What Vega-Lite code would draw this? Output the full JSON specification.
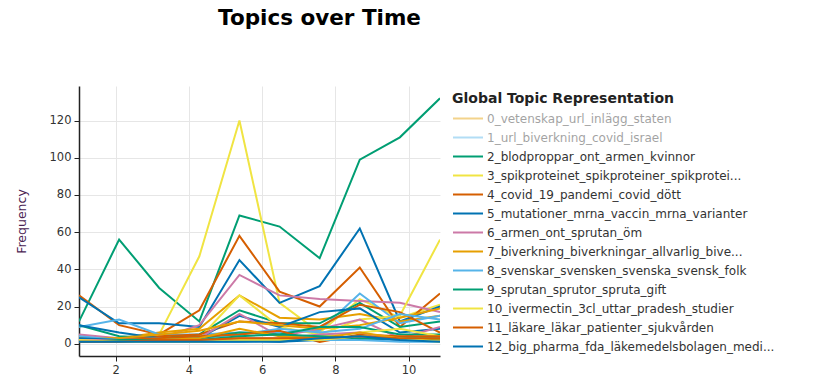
{
  "$schema": "https://vega.github.io/schema/vega-lite/v6.json",
  "width": 361,
  "height": 270,
  "autosize": {"type": "none"},
  "padding": {"left": 79, "top": 86, "right": 380, "bottom": 32},
  "background": "white",
  "title": {
    "text": "Topics over Time",
    "anchor": "middle",
    "frame": "group",
    "dx": 60,
    "offset": 57,
    "font": "DejaVu Sans",
    "fontSize": 21.5,
    "fontWeight": "bold",
    "color": "#000000"
  },
  "config": {
    "view": {"stroke": null},
    "font": "DejaVu Sans"
  },
  "datasets": {
    "freq": [
      {"topic": "2_blodproppar_ont_armen_kvinnor", "t": 1, "freq": 12},
      {"topic": "2_blodproppar_ont_armen_kvinnor", "t": 2.096, "freq": 56},
      {"topic": "2_blodproppar_ont_armen_kvinnor", "t": 3.191, "freq": 30},
      {"topic": "2_blodproppar_ont_armen_kvinnor", "t": 4.287, "freq": 12},
      {"topic": "2_blodproppar_ont_armen_kvinnor", "t": 5.382, "freq": 69},
      {"topic": "2_blodproppar_ont_armen_kvinnor", "t": 6.478, "freq": 63},
      {"topic": "2_blodproppar_ont_armen_kvinnor", "t": 7.573, "freq": 46},
      {"topic": "2_blodproppar_ont_armen_kvinnor", "t": 8.669, "freq": 99},
      {"topic": "2_blodproppar_ont_armen_kvinnor", "t": 9.764, "freq": 111},
      {"topic": "2_blodproppar_ont_armen_kvinnor", "t": 10.86, "freq": 132},

      {"topic": "3_spikproteinet_spikproteiner_spikprotei...", "t": 1, "freq": 2},
      {"topic": "3_spikproteinet_spikproteiner_spikprotei...", "t": 2.096, "freq": 2},
      {"topic": "3_spikproteinet_spikproteiner_spikprotei...", "t": 3.191, "freq": 5},
      {"topic": "3_spikproteinet_spikproteiner_spikprotei...", "t": 4.287, "freq": 47},
      {"topic": "3_spikproteinet_spikproteiner_spikprotei...", "t": 5.382, "freq": 120},
      {"topic": "3_spikproteinet_spikproteiner_spikprotei...", "t": 6.478, "freq": 22},
      {"topic": "3_spikproteinet_spikproteiner_spikprotei...", "t": 7.573, "freq": 6},
      {"topic": "3_spikproteinet_spikproteiner_spikprotei...", "t": 8.669, "freq": 24},
      {"topic": "3_spikproteinet_spikproteiner_spikprotei...", "t": 9.764, "freq": 14},
      {"topic": "3_spikproteinet_spikproteiner_spikprotei...", "t": 10.86, "freq": 21},

      {"topic": "4_covid_19_pandemi_covid_dött", "t": 1, "freq": 26},
      {"topic": "4_covid_19_pandemi_covid_dött", "t": 2.096, "freq": 10},
      {"topic": "4_covid_19_pandemi_covid_dött", "t": 3.191, "freq": 5},
      {"topic": "4_covid_19_pandemi_covid_dött", "t": 4.287, "freq": 18},
      {"topic": "4_covid_19_pandemi_covid_dött", "t": 5.382, "freq": 58},
      {"topic": "4_covid_19_pandemi_covid_dött", "t": 6.478, "freq": 28},
      {"topic": "4_covid_19_pandemi_covid_dött", "t": 7.573, "freq": 20},
      {"topic": "4_covid_19_pandemi_covid_dött", "t": 8.669, "freq": 41},
      {"topic": "4_covid_19_pandemi_covid_dött", "t": 9.764, "freq": 9},
      {"topic": "4_covid_19_pandemi_covid_dött", "t": 10.86, "freq": 27},

      {"topic": "5_mutationer_mrna_vaccin_mrna_varianter", "t": 1, "freq": 25},
      {"topic": "5_mutationer_mrna_vaccin_mrna_varianter", "t": 2.096, "freq": 11},
      {"topic": "5_mutationer_mrna_vaccin_mrna_varianter", "t": 3.191, "freq": 11},
      {"topic": "5_mutationer_mrna_vaccin_mrna_varianter", "t": 4.287, "freq": 9},
      {"topic": "5_mutationer_mrna_vaccin_mrna_varianter", "t": 5.382, "freq": 45},
      {"topic": "5_mutationer_mrna_vaccin_mrna_varianter", "t": 6.478, "freq": 22},
      {"topic": "5_mutationer_mrna_vaccin_mrna_varianter", "t": 7.573, "freq": 31},
      {"topic": "5_mutationer_mrna_vaccin_mrna_varianter", "t": 8.669, "freq": 62},
      {"topic": "5_mutationer_mrna_vaccin_mrna_varianter", "t": 9.764, "freq": 12},
      {"topic": "5_mutationer_mrna_vaccin_mrna_varianter", "t": 10.86, "freq": 20},

      {"topic": "6_armen_ont_sprutan_öm", "t": 1, "freq": 5},
      {"topic": "6_armen_ont_sprutan_öm", "t": 2.096, "freq": 3},
      {"topic": "6_armen_ont_sprutan_öm", "t": 3.191, "freq": 3},
      {"topic": "6_armen_ont_sprutan_öm", "t": 4.287, "freq": 10},
      {"topic": "6_armen_ont_sprutan_öm", "t": 5.382, "freq": 37},
      {"topic": "6_armen_ont_sprutan_öm", "t": 6.478, "freq": 26},
      {"topic": "6_armen_ont_sprutan_öm", "t": 7.573, "freq": 24},
      {"topic": "6_armen_ont_sprutan_öm", "t": 8.669, "freq": 23},
      {"topic": "6_armen_ont_sprutan_öm", "t": 9.764, "freq": 22},
      {"topic": "6_armen_ont_sprutan_öm", "t": 10.86, "freq": 17},

      {"topic": "7_biverkning_biverkningar_allvarlig_bive...", "t": 1, "freq": 2},
      {"topic": "7_biverkning_biverkningar_allvarlig_bive...", "t": 2.096, "freq": 3},
      {"topic": "7_biverkning_biverkningar_allvarlig_bive...", "t": 3.191, "freq": 6},
      {"topic": "7_biverkning_biverkningar_allvarlig_bive...", "t": 4.287, "freq": 8},
      {"topic": "7_biverkning_biverkningar_allvarlig_bive...", "t": 5.382, "freq": 26},
      {"topic": "7_biverkning_biverkningar_allvarlig_bive...", "t": 6.478, "freq": 14},
      {"topic": "7_biverkning_biverkningar_allvarlig_bive...", "t": 7.573, "freq": 13},
      {"topic": "7_biverkning_biverkningar_allvarlig_bive...", "t": 8.669, "freq": 16},
      {"topic": "7_biverkning_biverkningar_allvarlig_bive...", "t": 9.764, "freq": 12},
      {"topic": "7_biverkning_biverkningar_allvarlig_bive...", "t": 10.86, "freq": 15},

      {"topic": "8_svenskar_svensken_svenska_svensk_folk", "t": 1, "freq": 9},
      {"topic": "8_svenskar_svensken_svenska_svensk_folk", "t": 2.096, "freq": 13},
      {"topic": "8_svenskar_svensken_svenska_svensk_folk", "t": 3.191, "freq": 5},
      {"topic": "8_svenskar_svensken_svenska_svensk_folk", "t": 4.287, "freq": 5},
      {"topic": "8_svenskar_svensken_svenska_svensk_folk", "t": 5.382, "freq": 6},
      {"topic": "8_svenskar_svensken_svenska_svensk_folk", "t": 6.478, "freq": 6},
      {"topic": "8_svenskar_svensken_svenska_svensk_folk", "t": 7.573, "freq": 7},
      {"topic": "8_svenskar_svensken_svenska_svensk_folk", "t": 8.669, "freq": 27},
      {"topic": "8_svenskar_svensken_svenska_svensk_folk", "t": 9.764, "freq": 11},
      {"topic": "8_svenskar_svensken_svenska_svensk_folk", "t": 10.86, "freq": 15},

      {"topic": "9_sprutan_sprutor_spruta_gift", "t": 1, "freq": 10},
      {"topic": "9_sprutan_sprutor_spruta_gift", "t": 2.096, "freq": 4},
      {"topic": "9_sprutan_sprutor_spruta_gift", "t": 3.191, "freq": 3},
      {"topic": "9_sprutan_sprutor_spruta_gift", "t": 4.287, "freq": 5},
      {"topic": "9_sprutan_sprutor_spruta_gift", "t": 5.382, "freq": 18},
      {"topic": "9_sprutan_sprutor_spruta_gift", "t": 6.478, "freq": 11},
      {"topic": "9_sprutan_sprutor_spruta_gift", "t": 7.573, "freq": 11},
      {"topic": "9_sprutan_sprutor_spruta_gift", "t": 8.669, "freq": 22},
      {"topic": "9_sprutan_sprutor_spruta_gift", "t": 9.764, "freq": 9},
      {"topic": "9_sprutan_sprutor_spruta_gift", "t": 10.86, "freq": 12},

      {"topic": "10_ivermectin_3cl_uttar_pradesh_studier", "t": 1, "freq": 1},
      {"topic": "10_ivermectin_3cl_uttar_pradesh_studier", "t": 2.096, "freq": 1},
      {"topic": "10_ivermectin_3cl_uttar_pradesh_studier", "t": 3.191, "freq": 2},
      {"topic": "10_ivermectin_3cl_uttar_pradesh_studier", "t": 4.287, "freq": 3},
      {"topic": "10_ivermectin_3cl_uttar_pradesh_studier", "t": 5.382, "freq": 26},
      {"topic": "10_ivermectin_3cl_uttar_pradesh_studier", "t": 6.478, "freq": 9},
      {"topic": "10_ivermectin_3cl_uttar_pradesh_studier", "t": 7.573, "freq": 5},
      {"topic": "10_ivermectin_3cl_uttar_pradesh_studier", "t": 8.669, "freq": 13},
      {"topic": "10_ivermectin_3cl_uttar_pradesh_studier", "t": 9.764, "freq": 15},
      {"topic": "10_ivermectin_3cl_uttar_pradesh_studier", "t": 10.86, "freq": 56},

      {"topic": "11_läkare_läkar_patienter_sjukvården", "t": 1, "freq": 3},
      {"topic": "11_läkare_läkar_patienter_sjukvården", "t": 2.096, "freq": 2},
      {"topic": "11_läkare_läkar_patienter_sjukvården", "t": 3.191, "freq": 4},
      {"topic": "11_läkare_läkar_patienter_sjukvården", "t": 4.287, "freq": 5},
      {"topic": "11_läkare_läkar_patienter_sjukvården", "t": 5.382, "freq": 12},
      {"topic": "11_läkare_läkar_patienter_sjukvården", "t": 6.478, "freq": 11},
      {"topic": "11_läkare_läkar_patienter_sjukvården", "t": 7.573, "freq": 9},
      {"topic": "11_läkare_läkar_patienter_sjukvården", "t": 8.669, "freq": 21},
      {"topic": "11_läkare_läkar_patienter_sjukvården", "t": 9.764, "freq": 17},
      {"topic": "11_läkare_läkar_patienter_sjukvården", "t": 10.86, "freq": 6},

      {"topic": "12_big_pharma_fda_läkemedelsbolagen_medi...", "t": 1, "freq": 10},
      {"topic": "12_big_pharma_fda_läkemedelsbolagen_medi...", "t": 2.096, "freq": 6},
      {"topic": "12_big_pharma_fda_läkemedelsbolagen_medi...", "t": 3.191, "freq": 3},
      {"topic": "12_big_pharma_fda_läkemedelsbolagen_medi...", "t": 4.287, "freq": 3},
      {"topic": "12_big_pharma_fda_läkemedelsbolagen_medi...", "t": 5.382, "freq": 15},
      {"topic": "12_big_pharma_fda_läkemedelsbolagen_medi...", "t": 6.478, "freq": 9},
      {"topic": "12_big_pharma_fda_läkemedelsbolagen_medi...", "t": 7.573, "freq": 17},
      {"topic": "12_big_pharma_fda_läkemedelsbolagen_medi...", "t": 8.669, "freq": 19},
      {"topic": "12_big_pharma_fda_läkemedelsbolagen_medi...", "t": 9.764, "freq": 6},
      {"topic": "12_big_pharma_fda_läkemedelsbolagen_medi...", "t": 10.86, "freq": 8},

      {"topic": "Topic 13", "t": 1, "freq": 4},
      {"topic": "Topic 13", "t": 2.096, "freq": 2},
      {"topic": "Topic 13", "t": 3.191, "freq": 2},
      {"topic": "Topic 13", "t": 4.287, "freq": 3},
      {"topic": "Topic 13", "t": 5.382, "freq": 16},
      {"topic": "Topic 13", "t": 6.478, "freq": 4},
      {"topic": "Topic 13", "t": 7.573, "freq": 8},
      {"topic": "Topic 13", "t": 8.669, "freq": 13},
      {"topic": "Topic 13", "t": 9.764, "freq": 3},
      {"topic": "Topic 13", "t": 10.86, "freq": 9},

      {"topic": "Topic 14", "t": 1, "freq": 3},
      {"topic": "Topic 14", "t": 2.096, "freq": 3},
      {"topic": "Topic 14", "t": 3.191, "freq": 5},
      {"topic": "Topic 14", "t": 4.287, "freq": 7},
      {"topic": "Topic 14", "t": 5.382, "freq": 12},
      {"topic": "Topic 14", "t": 6.478, "freq": 10},
      {"topic": "Topic 14", "t": 7.573, "freq": 8},
      {"topic": "Topic 14", "t": 8.669, "freq": 10},
      {"topic": "Topic 14", "t": 9.764, "freq": 14},
      {"topic": "Topic 14", "t": 10.86, "freq": 19},

      {"topic": "Topic 15", "t": 1, "freq": 4},
      {"topic": "Topic 15", "t": 2.096, "freq": 2},
      {"topic": "Topic 15", "t": 3.191, "freq": 3},
      {"topic": "Topic 15", "t": 4.287, "freq": 3},
      {"topic": "Topic 15", "t": 5.382, "freq": 5},
      {"topic": "Topic 15", "t": 6.478, "freq": 8},
      {"topic": "Topic 15", "t": 7.573, "freq": 6},
      {"topic": "Topic 15", "t": 8.669, "freq": 8},
      {"topic": "Topic 15", "t": 9.764, "freq": 16},
      {"topic": "Topic 15", "t": 10.86, "freq": 13},

      {"topic": "Topic 16", "t": 1, "freq": 2},
      {"topic": "Topic 16", "t": 2.096, "freq": 1},
      {"topic": "Topic 16", "t": 3.191, "freq": 2},
      {"topic": "Topic 16", "t": 4.287, "freq": 3},
      {"topic": "Topic 16", "t": 5.382, "freq": 6},
      {"topic": "Topic 16", "t": 6.478, "freq": 5},
      {"topic": "Topic 16", "t": 7.573, "freq": 9},
      {"topic": "Topic 16", "t": 8.669, "freq": 9},
      {"topic": "Topic 16", "t": 9.764, "freq": 5},
      {"topic": "Topic 16", "t": 10.86, "freq": 5},

      {"topic": "Topic 17", "t": 1, "freq": 1},
      {"topic": "Topic 17", "t": 2.096, "freq": 1},
      {"topic": "Topic 17", "t": 3.191, "freq": 1},
      {"topic": "Topic 17", "t": 4.287, "freq": 2},
      {"topic": "Topic 17", "t": 5.382, "freq": 3},
      {"topic": "Topic 17", "t": 6.478, "freq": 2},
      {"topic": "Topic 17", "t": 7.573, "freq": 4},
      {"topic": "Topic 17", "t": 8.669, "freq": 6},
      {"topic": "Topic 17", "t": 9.764, "freq": 8},
      {"topic": "Topic 17", "t": 10.86, "freq": 4},

      {"topic": "Topic 18", "t": 1, "freq": 2},
      {"topic": "Topic 18", "t": 2.096, "freq": 2},
      {"topic": "Topic 18", "t": 3.191, "freq": 3},
      {"topic": "Topic 18", "t": 4.287, "freq": 4},
      {"topic": "Topic 18", "t": 5.382, "freq": 5},
      {"topic": "Topic 18", "t": 6.478, "freq": 7},
      {"topic": "Topic 18", "t": 7.573, "freq": 1},
      {"topic": "Topic 18", "t": 8.669, "freq": 5},
      {"topic": "Topic 18", "t": 9.764, "freq": 4},
      {"topic": "Topic 18", "t": 10.86, "freq": 4},

      {"topic": "Topic 19", "t": 1, "freq": 3},
      {"topic": "Topic 19", "t": 2.096, "freq": 2},
      {"topic": "Topic 19", "t": 3.191, "freq": 1},
      {"topic": "Topic 19", "t": 4.287, "freq": 1},
      {"topic": "Topic 19", "t": 5.382, "freq": 2},
      {"topic": "Topic 19", "t": 6.478, "freq": 1},
      {"topic": "Topic 19", "t": 7.573, "freq": 2},
      {"topic": "Topic 19", "t": 8.669, "freq": 3},
      {"topic": "Topic 19", "t": 9.764, "freq": 2},
      {"topic": "Topic 19", "t": 10.86, "freq": 2},

      {"topic": "Topic 20", "t": 1, "freq": 2},
      {"topic": "Topic 20", "t": 2.096, "freq": 2},
      {"topic": "Topic 20", "t": 3.191, "freq": 2},
      {"topic": "Topic 20", "t": 4.287, "freq": 2},
      {"topic": "Topic 20", "t": 5.382, "freq": 3},
      {"topic": "Topic 20", "t": 6.478, "freq": 3},
      {"topic": "Topic 20", "t": 7.573, "freq": 5},
      {"topic": "Topic 20", "t": 8.669, "freq": 6},
      {"topic": "Topic 20", "t": 9.764, "freq": 2},
      {"topic": "Topic 20", "t": 10.86, "freq": 2},

      {"topic": "Topic 21", "t": 1, "freq": 1},
      {"topic": "Topic 21", "t": 2.096, "freq": 1},
      {"topic": "Topic 21", "t": 3.191, "freq": 2},
      {"topic": "Topic 21", "t": 4.287, "freq": 3},
      {"topic": "Topic 21", "t": 5.382, "freq": 8},
      {"topic": "Topic 21", "t": 6.478, "freq": 4},
      {"topic": "Topic 21", "t": 7.573, "freq": 3},
      {"topic": "Topic 21", "t": 8.669, "freq": 6},
      {"topic": "Topic 21", "t": 9.764, "freq": 3},
      {"topic": "Topic 21", "t": 10.86, "freq": 2},

      {"topic": "Topic 22", "t": 1, "freq": 1},
      {"topic": "Topic 22", "t": 2.096, "freq": 1},
      {"topic": "Topic 22", "t": 3.191, "freq": 1},
      {"topic": "Topic 22", "t": 4.287, "freq": 1},
      {"topic": "Topic 22", "t": 5.382, "freq": 1},
      {"topic": "Topic 22", "t": 6.478, "freq": 2},
      {"topic": "Topic 22", "t": 7.573, "freq": 2},
      {"topic": "Topic 22", "t": 8.669, "freq": 2},
      {"topic": "Topic 22", "t": 9.764, "freq": 1},
      {"topic": "Topic 22", "t": 10.86, "freq": 1},

      {"topic": "Topic 23", "t": 1, "freq": 1},
      {"topic": "Topic 23", "t": 2.096, "freq": 2},
      {"topic": "Topic 23", "t": 3.191, "freq": 2},
      {"topic": "Topic 23", "t": 4.287, "freq": 2},
      {"topic": "Topic 23", "t": 5.382, "freq": 4},
      {"topic": "Topic 23", "t": 6.478, "freq": 5},
      {"topic": "Topic 23", "t": 7.573, "freq": 4},
      {"topic": "Topic 23", "t": 8.669, "freq": 3},
      {"topic": "Topic 23", "t": 9.764, "freq": 3},
      {"topic": "Topic 23", "t": 10.86, "freq": 3},

      {"topic": "Topic 24", "t": 1, "freq": 2},
      {"topic": "Topic 24", "t": 2.096, "freq": 1},
      {"topic": "Topic 24", "t": 3.191, "freq": 1},
      {"topic": "Topic 24", "t": 4.287, "freq": 1},
      {"topic": "Topic 24", "t": 5.382, "freq": 2},
      {"topic": "Topic 24", "t": 6.478, "freq": 2},
      {"topic": "Topic 24", "t": 7.573, "freq": 2},
      {"topic": "Topic 24", "t": 8.669, "freq": 4},
      {"topic": "Topic 24", "t": 9.764, "freq": 3},
      {"topic": "Topic 24", "t": 10.86, "freq": 1},

      {"topic": "Topic 25", "t": 1, "freq": 1},
      {"topic": "Topic 25", "t": 2.096, "freq": 1},
      {"topic": "Topic 25", "t": 3.191, "freq": 2},
      {"topic": "Topic 25", "t": 4.287, "freq": 2},
      {"topic": "Topic 25", "t": 5.382, "freq": 3},
      {"topic": "Topic 25", "t": 6.478, "freq": 3},
      {"topic": "Topic 25", "t": 7.573, "freq": 3},
      {"topic": "Topic 25", "t": 8.669, "freq": 4},
      {"topic": "Topic 25", "t": 9.764, "freq": 3},
      {"topic": "Topic 25", "t": 10.86, "freq": 3},

      {"topic": "Topic 26", "t": 1, "freq": 1},
      {"topic": "Topic 26", "t": 2.096, "freq": 1},
      {"topic": "Topic 26", "t": 3.191, "freq": 1},
      {"topic": "Topic 26", "t": 4.287, "freq": 1},
      {"topic": "Topic 26", "t": 5.382, "freq": 1},
      {"topic": "Topic 26", "t": 6.478, "freq": 1},
      {"topic": "Topic 26", "t": 7.573, "freq": 3},
      {"topic": "Topic 26", "t": 8.669, "freq": 4},
      {"topic": "Topic 26", "t": 9.764, "freq": 2},
      {"topic": "Topic 26", "t": 10.86, "freq": 1}
    ]
  },
  "data": {"name": "freq"},
  "mark": {"type": "line", "strokeWidth": 2, "clip": true},
  "encoding": {
    "x": {
      "field": "t",
      "type": "quantitative",
      "scale": {"domain": [1, 10.86], "nice": false, "zero": false},
      "axis": {
        "title": null,
        "values": [2, 4, 6, 8, 10],
        "grid": true,
        "gridColor": "#e6e6e6",
        "gridWidth": 1,
        "domainColor": "#222222",
        "domainWidth": 1.5,
        "tickColor": "#222222",
        "tickSize": 5,
        "labelFont": "DejaVu Sans",
        "labelFontSize": 11.5,
        "labelColor": "#333333",
        "labelPadding": 3
      }
    },
    "y": {
      "field": "freq",
      "type": "quantitative",
      "scale": {"domain": [-6.6, 138.6], "nice": false, "zero": false},
      "axis": {
        "title": "Frequency",
        "titleFont": "DejaVu Sans",
        "titleFontSize": 12.5,
        "titleFontWeight": "normal",
        "titleColor": "#4a2352",
        "titlePadding": 21,
        "values": [0, 20, 40, 60, 80, 100, 120],
        "grid": true,
        "gridColor": "#e6e6e6",
        "gridWidth": 1,
        "domainColor": "#222222",
        "domainWidth": 1.5,
        "tickColor": "#222222",
        "tickSize": 5,
        "labelFont": "DejaVu Sans",
        "labelFontSize": 11.5,
        "labelColor": "#333333",
        "labelPadding": 3
      }
    },
    "color": {
      "field": "topic",
      "type": "nominal",
      "scale": {
        "domain": [
          "0_vetenskap_url_inlägg_staten",
          "1_url_biverkning_covid_israel",
          "2_blodproppar_ont_armen_kvinnor",
          "3_spikproteinet_spikproteiner_spikprotei...",
          "4_covid_19_pandemi_covid_dött",
          "5_mutationer_mrna_vaccin_mrna_varianter",
          "6_armen_ont_sprutan_öm",
          "7_biverkning_biverkningar_allvarlig_bive...",
          "8_svenskar_svensken_svenska_svensk_folk",
          "9_sprutan_sprutor_spruta_gift",
          "10_ivermectin_3cl_uttar_pradesh_studier",
          "11_läkare_läkar_patienter_sjukvården",
          "12_big_pharma_fda_läkemedelsbolagen_medi...",
          "Topic 13", "Topic 14", "Topic 15", "Topic 16", "Topic 17", "Topic 18", "Topic 19",
          "Topic 20", "Topic 21", "Topic 22", "Topic 23", "Topic 24", "Topic 25", "Topic 26"
        ],
        "range": [
          "#E69F00", "#56B4E9", "#009E73", "#F0E442", "#D55E00", "#0072B2", "#CC79A7",
          "#E69F00", "#56B4E9", "#009E73", "#F0E442", "#D55E00", "#0072B2", "#CC79A7",
          "#E69F00", "#56B4E9", "#009E73", "#F0E442", "#D55E00", "#0072B2", "#CC79A7",
          "#E69F00", "#56B4E9", "#009E73", "#F0E442", "#D55E00", "#0072B2"
        ]
      },
      "legend": {
        "title": "Global Topic Representation",
        "titleFont": "DejaVu Sans",
        "titleFontSize": 14,
        "titleFontWeight": "bold",
        "titleColor": "#222222",
        "titleLimit": 400,
        "titlePadding": 4,
        "orient": "none",
        "legendX": 373,
        "legendY": 6,
        "values": [
          "0_vetenskap_url_inlägg_staten",
          "1_url_biverkning_covid_israel",
          "2_blodproppar_ont_armen_kvinnor",
          "3_spikproteinet_spikproteiner_spikprotei...",
          "4_covid_19_pandemi_covid_dött",
          "5_mutationer_mrna_vaccin_mrna_varianter",
          "6_armen_ont_sprutan_öm",
          "7_biverkning_biverkningar_allvarlig_bive...",
          "8_svenskar_svensken_svenska_svensk_folk",
          "9_sprutan_sprutor_spruta_gift",
          "10_ivermectin_3cl_uttar_pradesh_studier",
          "11_läkare_läkar_patienter_sjukvården",
          "12_big_pharma_fda_läkemedelsbolagen_medi..."
        ],
        "symbolType": "M -1 0 L 3 0",
        "symbolSize": 225,
        "symbolStrokeWidth": 2,
        "symbolFillColor": "transparent",
        "labelFont": "DejaVu Sans",
        "labelFontSize": 12,
        "labelColor": "#333333",
        "labelOffset": 18,
        "labelLimit": 400,
        "rowPadding": 4,
        "encode": {
          "labels": {"update": {"opacity": {"signal": "(slice(datum.label,0,2)=='0_' || slice(datum.label,0,2)=='1_') ? 0.45 : 1"}}},
          "symbols": {"update": {"opacity": {"signal": "(slice(datum.value,0,2)=='0_' || slice(datum.value,0,2)=='1_') ? 0.45 : 1"}}}
        }
      }
    }
  }
}
